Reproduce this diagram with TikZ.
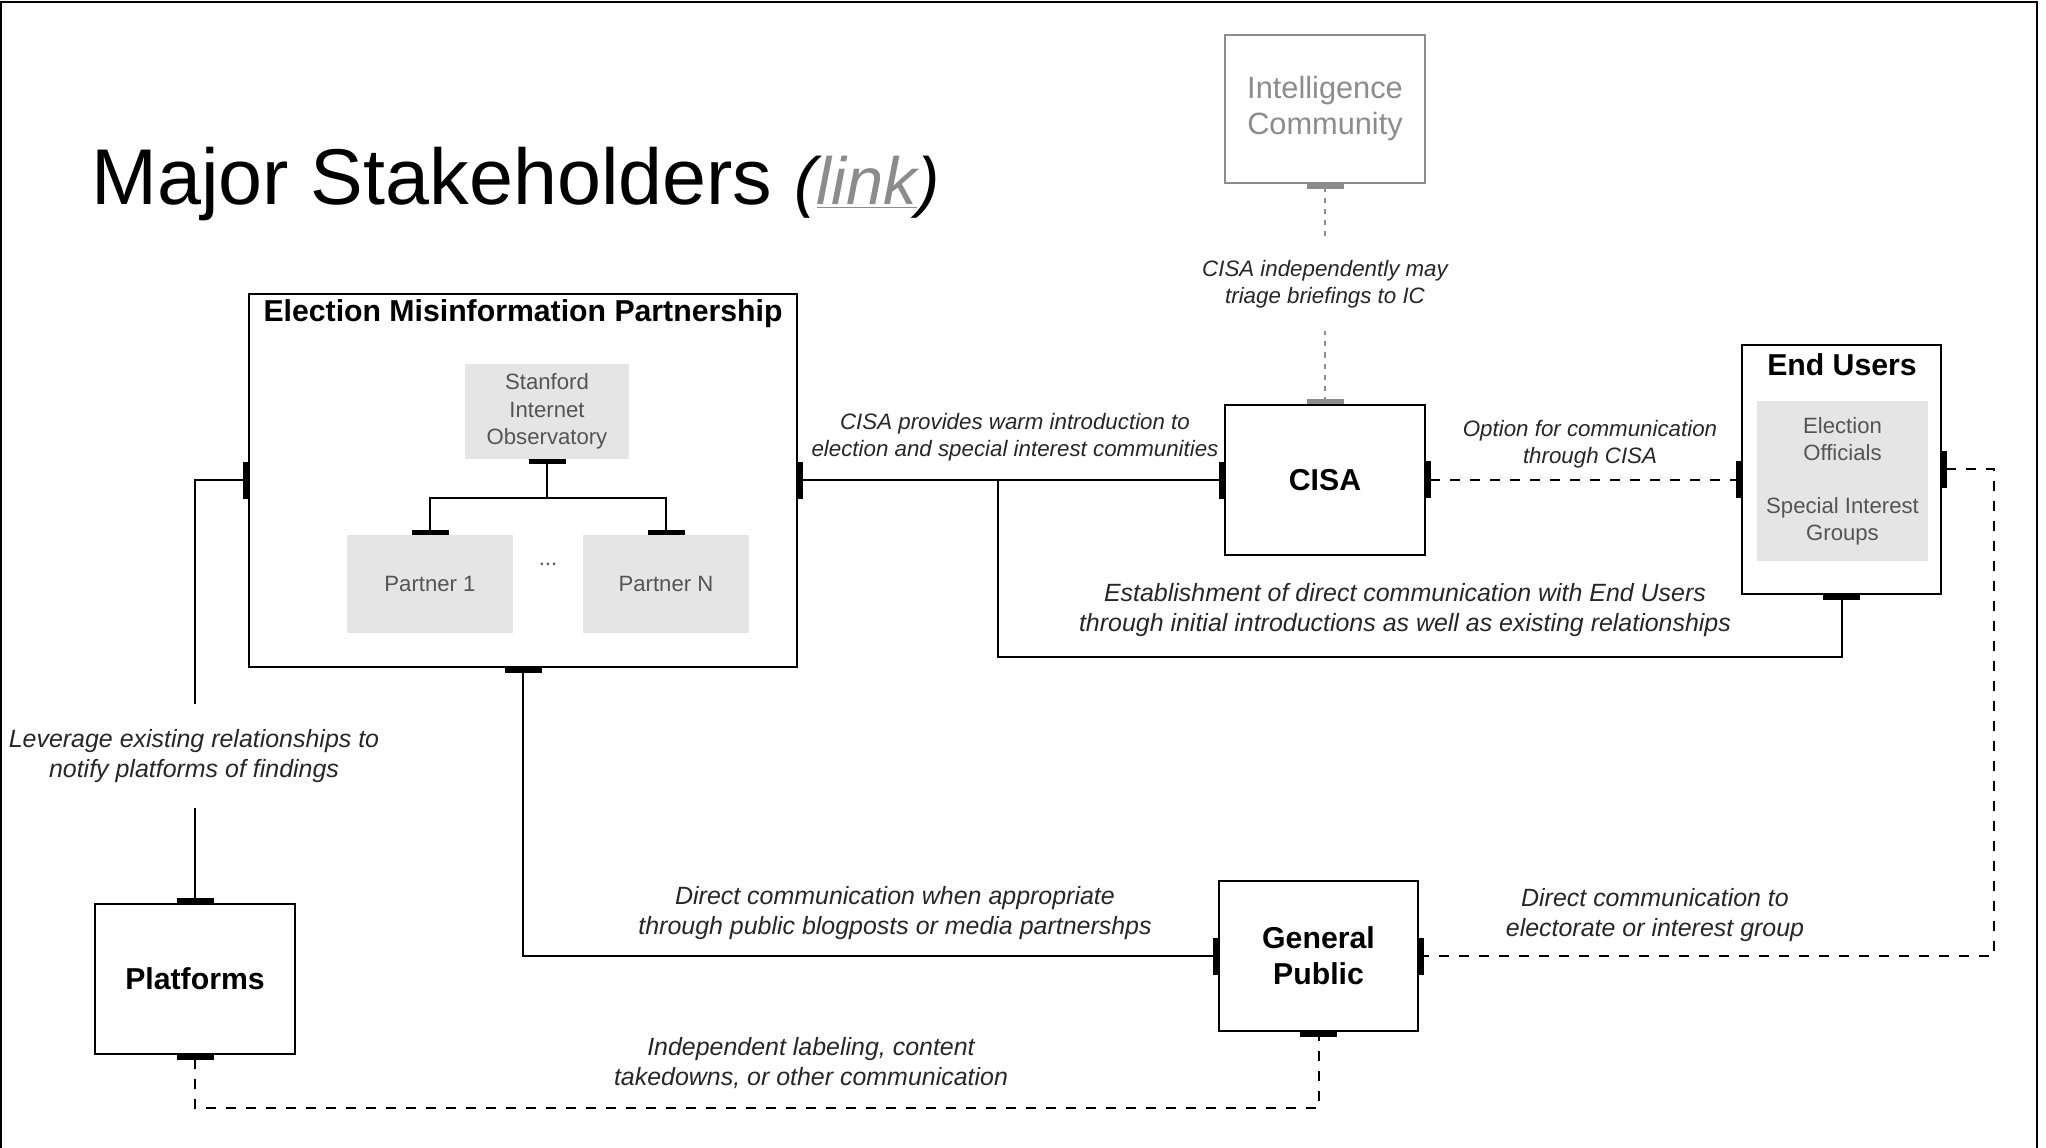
\documentclass[tikz,border=0pt]{standalone}
\usepackage{fontspec}
\setmainfont{Liberation Sans}
\usepackage{tikz}
\usetikzlibrary{arrows.meta}

\definecolor{subfill}{gray}{0.9}
\definecolor{subtext}{gray}{0.33}
\definecolor{faint}{gray}{0.55}
\definecolor{labeltext}{gray}{0.15}

\begin{document}
\begin{tikzpicture}[x=0.2mm, y=-0.2mm,
  >={Bar[width=7.4mm,line width=1mm]},
  box/.style={draw, line width=0.4mm, minimum width=4cm, minimum height=3cm, align=center, font=\fontsize{17.2}{20.5}\selectfont\bfseries},
  sub/.style={fill=subfill, text=subtext, align=center, font=\fontsize{12.6}{15.5}\selectfont},
  lbl/.style={align=center, text=labeltext, font=\fontsize{14.2}{17.4}\selectfont\itshape},
  lbls/.style={align=center, text=labeltext, font=\fontsize{12.7}{15.5}\selectfont\itshape},
  wire/.style={line width=0.4mm},
  dashline/.style={line width=0.4mm, dash pattern=on 2mm off 2mm},
  dotline/.style={line width=0.4mm, faint, dash pattern=on 1mm off 1.2mm}]
\useasboundingbox (0,0) rectangle (2046,1148);

% Title
\node[anchor=base west, inner sep=0pt, font=\fontsize{45}{50}\selectfont] (title) at (91,205) {Major Stakeholders {\fontsize{38}{44}\selectfont\itshape(\textcolor{faint}{\underline{link}})}};

% Stakeholders
\node[box, draw=faint, line width=0.3mm, text=faint, font=\fontsize{17.5}{20.5}\selectfont, minimum height=2.96cm] (ic) at (1325,109) {Intelligence\\Community};
\node[box] (cisa) at (1325,480) {CISA};
\node[box, minimum width=3.98cm, minimum height=4.98cm] (eu) at (1841.5,469.5) {};
\node[font=\fontsize{17.2}{20.5}\selectfont\bfseries] (eutitle) at (1842,365) {End Users};
\node[sub, minimum width=3.42cm, minimum height=3.2cm] (eugroups) at (1842.5,481) {Election\\Officials\\[14.5pt]Special Interest\\Groups};
\node[box] (plat) at (195,979) {Platforms};
\node[box, minimum width=3.98cm] (gp) at (1318.5,956) {General\\Public};

% Partnership
\node[box, minimum width=10.96cm, minimum height=7.46cm] (emp) at (523,480.5) {};
\node[font=\fontsize{17.2}{20.5}\selectfont\bfseries] (emptitle) at (523,314) {Election Misinformation Partnership};
\node[sub, minimum width=3.28cm, minimum height=1.9cm] (sio) at (547,411.5) {Stanford\\Internet\\Observatory};
\node[sub, minimum width=3.32cm, minimum height=1.96cm] (p1) at (430,584) {Partner 1};
\node[sub, minimum width=3.32cm, minimum height=1.96cm] (pn) at (666,584) {Partner N};
\node[text=subtext, font=\fontsize{12.6}{15}\selectfont] (etc) at (548,564) {...};
\draw[wire, <->] (sio.south) -- ++(0,39) -| (p1.north);
\draw[wire, <->] (sio.south) -- ++(0,39) -| (pn.north);

% Connections
\draw[wire, <->] (emp.east) -- (emp.east -| cisa.west);
\coordinate (split) at (998,480);
\draw[wire, <-] (eu.south) -- ++(0,62) -| (split);
\draw[dashline, <->] (cisa.east) -- (cisa.east -| eu.west);
\draw[dotline, <->] (ic.south) -- (cisa.north);
\draw[wire, <->] (plat.north) |- (emp.west);
\draw[wire, <->] (emp.south) |- (gp.west);
\draw[dashline, <->] (eu.east) -- ++(52,0) |- (gp.east);
\draw[dashline, <->] (plat.south) -- ++(0,53) -| (gp.south);

% Labels
\node[lbls, fill=white, inner xsep=1pt, inner ysep=4.5mm] (ltriage) at (1325,284) {CISA independently may\\triage briefings to IC};
\node[lbl, fill=white, inner xsep=1pt, inner ysep=5mm] (lleverage) at (194,756) {Leverage existing relationships to\\notify platforms of findings};
\node[lbls] (lwarm) at (1015,437) {CISA provides warm introduction to\\election and special interest communities};
\node[lbls] (loption) at (1590,444) {Option for communication\\through CISA};
\node[lbl] (lestablish) at (1405,610) {Establishment of direct communication with End Users\\through initial introductions as well as existing relationships};
\node[lbl] (lblog) at (895,913) {Direct communication when appropriate\\through public blogposts or media partnershps};
\node[lbl] (lgroup) at (1655,915) {Direct communication to\\electorate or interest group};
\node[lbl] (lindep) at (811,1063) {Independent labeling, content\\takedowns, or other communication};

% Frame
\draw[line width=0.5mm] (1,1148) -- (1,2) -- (2037,2) -- (2037,1148);
\end{tikzpicture}
\end{document}
